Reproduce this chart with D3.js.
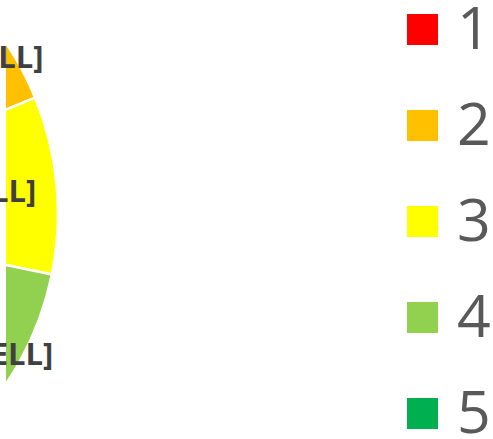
<!DOCTYPE html>
<html>
<head>
<meta charset="utf-8">
<script src="https://cdn.jsdelivr.net/npm/d3@7"></script>
<style>
  html, body { margin: 0; padding: 0; background: #ffffff; }
  svg { display: block; }
</style>
</head>
<body>
<svg id="chart" width="493" height="439"></svg>
<script>
// ---- data ----
const categories = ["1", "2", "3", "4", "5"];
const values = [13.0, 5.8, 9.4, 9.7, 62.1];
const labels = ["[CELL]", "[CELL]", "[CELL]", "[CELL]", "[CELL]"];
const colors = ["#FF0000", "#FFC000", "#FFFF00", "#92D050", "#00B050"];

// ---- layout ----
const W = 493, H = 439;
const cx = -247, cy = 213.5, R = 305;
const labelRadiusFactor = [0.952, 0.952, 0.78, 0.952, 0.952];

const svg = d3.select("#chart");

svg.append("defs").append("clipPath").attr("id", "plotclip")
  .append("rect").attr("x", 6).attr("y", 0).attr("width", W - 6).attr("height", H);

const pie = d3.pie().sort(null).value(d => d)(values);
const arc = d3.arc().innerRadius(0).outerRadius(R);

const gPie = svg.append("g").attr("clip-path", "url(#plotclip)")
  .append("g").attr("transform", `translate(${cx},${cy})`);

gPie.selectAll("path").data(pie).join("path")
  .attr("d", arc)
  .attr("fill", (d, i) => colors[i])
  .attr("stroke", "#ffffff")
  .attr("stroke-width", 2.5)
  .attr("stroke-linejoin", "round");

// data labels
const gLab = svg.append("g").attr("transform", `translate(${cx},${cy})`);
gLab.selectAll("text").data(pie).join("text")
  .attr("transform", (d, i) => {
    const r = R * labelRadiusFactor[i];
    const a = (d.startAngle + d.endAngle) / 2;
    return `translate(${r * Math.sin(a)},${-r * Math.cos(a)})`;
  })
  .attr("text-anchor", "middle")
  .attr("dy", "0.36em")
  .attr("font-family", "'Open Sans', 'Noto Sans', sans-serif")
  .attr("font-weight", "bold")
  .attr("font-size", 31)
  .attr("fill", "#404040")
  .text((d, i) => labels[i]);

// legend
const ly = d3.scalePoint().domain(categories).range([14, 398]);
const gLeg = svg.append("g");
const items = gLeg.selectAll("g").data(categories).join("g")
  .attr("transform", d => `translate(407,${ly(d)})`);
items.append("rect")
  .attr("width", 31).attr("height", 31)
  .attr("fill", (d, i) => colors[i]);
items.append("text")
  .attr("x", 50).attr("y", 35)
  .attr("font-family", "'Open Sans', 'Noto Sans', sans-serif")
  .attr("font-size", 59)
  .attr("fill", "#595959")
  .text(d => d);
</script>
</body>
</html>
